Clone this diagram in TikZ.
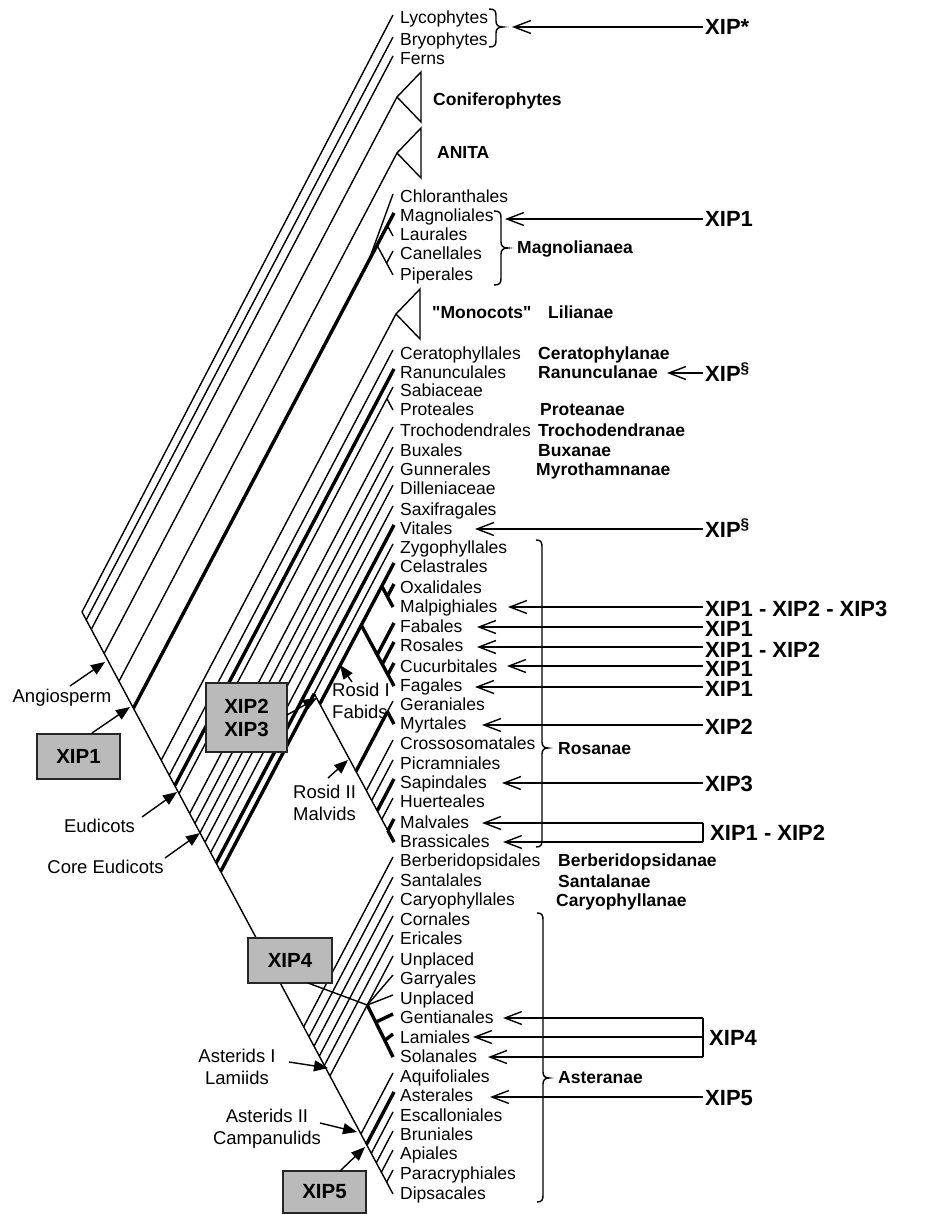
\documentclass[tikz,border=0pt]{standalone}
\usepackage{fontspec}
\setmainfont{Liberation Sans}
\newfontfamily\plainfnt{Liberation Sans}
\usetikzlibrary{calc,arrows.meta}
\newcommand\bbnode[2]{%
  \coordinate (a#1) at ($(#2)+(-100,190)$);%
  \coordinate (#1) at (intersection of R--D and #2--a#1);}
\newcommand\ccnode[3]{%
  \coordinate (u#1) at ($(#2)+(-100,190)$);%
  \coordinate (v#1) at ($(#3)+(-100,-186)$);%
  \coordinate (#1) at (intersection of #2--u#1 and #3--v#1);}
\newcommand\myLf{\fontsize{17.5}{20}\selectfont}
\newcommand\myAf{\fontsize{18.5}{22}\selectfont}
\newcommand\myXf{\fontsize{22}{24}\selectfont\bfseries}
\newcommand\myBf{\fontsize{20.5}{23}\selectfont\bfseries}
\newcommand\lfnode[3]{\node[lab] (n#1) at (400,#2+6) {#3};}
\newcommand\clnode[4]{\node[blab] (c#1) at (#2,#3+6) {#4};}
\newcommand\mybrace[6]{% x0, xv, xt, ytop, ymid, ybot
  \draw[br] (#1,#4) .. controls (#2-1,#4) and (#2,#4+2) .. (#2,#4+7) -- (#2,#5-6)
   .. controls (#2,#5-2) and (#2+2,#5) .. (#3,#5)
   .. controls (#2+2,#5) and (#2,#5+2) .. (#2,#5+6) -- (#2,#6-7)
   .. controls (#2,#6-2) and (#2-1,#6) .. (#1,#6);}
\begin{document}
\begin{tikzpicture}[x=1pt,y=-1pt,
  br/.style={line width=1.4pt},
  thk/.style={line width=3.4pt},
  lab/.style={anchor=base west, inner sep=0pt, font=\myLf},
  blab/.style={anchor=base west, inner sep=0pt, font=\myLf\bfseries},
  ann/.style={inner sep=0pt, font=\myAf},
  xip/.style={anchor=base west, inner sep=0pt, font=\myXf},
  xarr/.style={line width=1.4pt, -{Straight Barb[length=17pt,width=13pt]}},
  aarr/.style={line width=1.4pt, -{Triangle[length=14pt,width=11pt]}},
  gbox/.style={draw=black!85, line width=1.4pt, fill=black!27, inner sep=0pt, font=\myBf, align=center}
]
\useasboundingbox (0,0) rectangle (928,1214);
\fill[white] (0,0) rectangle (928,1214);

% ---------- tips ----------
\coordinate (R) at (82,612);
\coordinate (D) at (393,1194);
\coordinate (Lyc) at (393,15);
\coordinate (Bry) at (393,37);
\coordinate (Fer) at (393,56);
\coordinate (Con) at (397,97);
\coordinate (ANI) at (397,153);
\coordinate (Chl) at (393,194);
\coordinate (Mag) at (394,213);
\coordinate (Lau) at (393,236);
\coordinate (Can) at (393,251);
\coordinate (Pip) at (393,275);
\coordinate (Mon) at (396,314);
\coordinate (Cer) at (393,350);
\coordinate (Ran) at (394,369);
\coordinate (Sab) at (393,387);
\coordinate (Pro) at (393,410);
\coordinate (Tro) at (393,427);
\coordinate (Bux) at (393,447);
\coordinate (Gun) at (393,466);
\coordinate (Dil) at (393,485);
\coordinate (Sax) at (393,506);
\coordinate (Vit) at (394,525);
\coordinate (Zyg) at (393,544);
\coordinate (Cel) at (394,563);
\coordinate (Oxa) at (394,584);
\coordinate (Mal) at (393,607);
\coordinate (Fab) at (394,623);
\coordinate (Ros) at (394,642);
\coordinate (Cuc) at (394,663);
\coordinate (Fag) at (394,686);
\coordinate (Ger) at (393,701);
\coordinate (Myr) at (394,724);
\coordinate (Cro) at (393,740);
\coordinate (Pic) at (393,760);
\coordinate (Sap) at (394,779);
\coordinate (Hue) at (393,798);
\coordinate (Mav) at (394,819);
\coordinate (Bra) at (394,842);
\coordinate (Ber) at (393,857);
\coordinate (San) at (393,877);
\coordinate (Car) at (393,896);
\coordinate (Cor) at (393,916);
\coordinate (Eri) at (393,935);
\coordinate (Uno) at (393,956);
\coordinate (Gar) at (393,975);
\coordinate (Unt) at (393,995);
\coordinate (Gen) at (393,1014);
\coordinate (Lam) at (393,1034);
\coordinate (Sol) at (393,1057);
\coordinate (Aqu) at (393,1073);
\coordinate (Ast) at (394,1092);
\coordinate (Esc) at (393,1112);
\coordinate (Bru) at (393,1131);
\coordinate (Api) at (393,1150);
\coordinate (Par) at (393,1170);

% ---------- backbone nodes ----------
\foreach \t in {Bry,Fer,Con,ANI,Mag,Mon,Cer,Ran,Sab,Tro,Bux,Gun,Dil,Sax,Vit,Zyg,Ber,San,Car,Cor,Eri,Uno,Aqu,Ast,Esc,Bru,Api,Par}{
  \bbnode{b\t}{\t}
}
\draw[br] (R) -- (D);
\draw[br] (R) -- (Lyc);
\foreach \t in {Bry,Fer,Con,ANI,Mon,Cer,Sab,Tro,Bux,Gun,Dil,Sax,Ber,San,Car,Cor,Eri,Uno,Aqu,Esc,Bru,Api,Par}{
  \draw[br] (b\t) -- (\t);
}
\foreach \t in {Mag,Ran,Vit,Ast}{
  \draw[thk] (b\t) -- (\t);
}

% triangles
\draw[br] (Con) -- (421,72) -- (421,122) -- cycle;
\draw[br] (ANI) -- (421,128) -- (421,178) -- cycle;
\draw[br] (Mon) -- (420,289) -- (420,339) -- cycle;

% magnoliids
\ccnode{ML}{Mag}{Lau}
\ccnode{MP}{Mag}{Pip}
\ccnode{CP}{Can}{Pip}
\draw[br] (ML) -- (Lau);
\draw[br] (MP) -- (Pip);
\draw[br] (CP) -- (Can);
\coordinate (CH) at (intersection of bMag--Mag and 0,262--900,262);
\draw[br] (CH) -- (Chl);

% Sabiaceae / Proteales
\ccnode{SP}{Sab}{Pro}
\draw[br] (SP) -- (Pro);

% rosids
\ccnode{rR}{Zyg}{Bra}
\draw[thk] (bZyg) -- (rR);
\draw[br] (rR) -- (Zyg);
\draw[br] (rR) -- (Bra);
\ccnode{CB}{Cel}{Bra}
\ccnode{CN}{Cel}{Fag}
\draw[thk] (CB) -- (Cel);
\draw[thk] (CN) -- (Fag);
\ccnode{COM}{Cel}{Mal}
\ccnode{OM}{Oxa}{Mal}
\draw[thk] (COM) -- (Mal);
\draw[thk] (OM) -- (Oxa);
\ccnode{NF}{Fab}{Fag}
\ccnode{RF}{Ros}{Fag}
\ccnode{CF}{Cuc}{Fag}
\draw[thk] (NF) -- (Fab);
\draw[thk] (RF) -- (Ros);
\draw[thk] (CF) -- (Cuc);
\ccnode{MB}{Ger}{Bra}
\ccnode{GM}{Ger}{Myr}
\draw[thk] (MB) -- (GM);
\draw[br] (GM) -- (Ger);
\draw[thk] (GM) -- (Myr);
\ccnode{CrB}{Cro}{Bra}
\ccnode{PiB}{Pic}{Bra}
\ccnode{SaB}{Sap}{Bra}
\ccnode{HuB}{Hue}{Bra}
\ccnode{MvB}{Mav}{Bra}
\draw[br] (CrB) -- (Cro);
\draw[br] (PiB) -- (Pic);
\draw[thk] (SaB) -- (Sap);
\draw[br] (HuB) -- (Hue);
\draw[thk] (MvB) -- (Mav);
\draw[thk] (MvB) -- (Bra);

% lamiids
\coordinate (LN) at (intersection of bUno--Uno and 0,1005--900,1005);
\draw[br] (LN) -- (Gar);
\draw[br] (LN) -- (Unt);
\draw[thk] (LN) -- (Sol);
\coordinate (GT) at ($(LN)!0.33!(Sol)$);
\coordinate (LT) at ($(LN)!0.68!(Sol)$);
\draw[thk] (GT) -- (Gen);
\draw[thk] (LT) -- (Lam);

% ---------- leaf labels ----------
\lfnode{Lyc}{18}{Lycophytes}
\lfnode{Bry}{40}{Bryophytes}
\lfnode{Fer}{59}{Ferns}
\lfnode{Chl}{197}{Chloranthales}
\lfnode{Mag}{216}{Magnoliales}
\lfnode{Lau}{235}{Laurales}
\lfnode{Can}{254}{Canellales}
\lfnode{Pip}{274}{Piperales}
\lfnode{Cer}{353}{Ceratophyllales}
\lfnode{Ran}{372}{Ranunculales}
\lfnode{Sab}{390}{Sabiaceae}
\lfnode{Pro}{409}{Proteales}
\lfnode{Tro}{430}{Trochodendrales}
\lfnode{Bux}{450}{Buxales}
\lfnode{Gun}{469}{Gunnerales}
\lfnode{Dil}{488}{Dilleniaceae}
\lfnode{Sax}{509}{Saxifragales}
\lfnode{Vit}{528}{Vitales}
\lfnode{Zyg}{547}{Zygophyllales}
\lfnode{Cel}{566}{Celastrales}
\lfnode{Oxa}{587}{Oxalidales}
\lfnode{Mal}{606}{Malpighiales}
\lfnode{Fab}{626}{Fabales}
\lfnode{Ros}{645}{Rosales}
\lfnode{Cuc}{666}{Cucurbitales}
\lfnode{Fag}{685}{Fagales}
\lfnode{Ger}{704}{Geraniales}
\lfnode{Myr}{723}{Myrtales}
\lfnode{Cro}{743}{Crossosomatales}
\lfnode{Pic}{763}{Picramniales}
\lfnode{Sap}{782}{Sapindales}
\lfnode{Hue}{801}{Huerteales}
\lfnode{Mav}{822}{Malvales}
\lfnode{Bra}{841}{Brassicales}
\lfnode{Ber}{860}{Berberidopsidales}
\lfnode{San}{880}{Santalales}
\lfnode{Car}{899}{Caryophyllales}
\lfnode{Cor}{919}{Cornales}
\lfnode{Eri}{938}{Ericales}
\lfnode{Uno}{959}{Unplaced}
\lfnode{Gar}{978}{Garryales}
\lfnode{Unt}{998}{Unplaced}
\lfnode{Gen}{1017}{Gentianales}
\lfnode{Lam}{1037}{Lamiales}
\lfnode{Sol}{1056}{Solanales}
\lfnode{Aqu}{1076}{Aquifoliales}
\lfnode{Ast}{1095}{Asterales}
\lfnode{Esc}{1115}{Escalloniales}
\lfnode{Bru}{1134}{Bruniales}
\lfnode{Api}{1153}{Apiales}
\lfnode{Par}{1173}{Paracryphiales}
\lfnode{Dip}{1193}{Dipsacales}

% ---------- clade names ----------
\clnode{Con}{433}{100}{Coniferophytes}
\clnode{ANI}{437}{153}{ANITA}
\clnode{Mon}{432}{313}{{\plainfnt\bfseries "Monocots"}}
\clnode{Lil}{548}{313}{Lilianae}
\clnode{Mgn}{517}{248}{Magnolianaea}
\clnode{Cer}{538}{353}{Ceratophylanae}
\clnode{Ran}{538}{372}{Ranunculanae}
\clnode{Pro}{540}{409}{Proteanae}
\clnode{Tro}{538}{430}{Trochodendranae}
\clnode{Bux}{538}{450}{Buxanae}
\clnode{Myro}{536}{469}{Myrothamnanae}
\clnode{Rsn}{558}{748}{Rosanae}
\clnode{Ber}{558}{860}{Berberidopsidanae}
\clnode{San}{558}{881}{Santalanae}
\clnode{Car}{556}{900}{Caryophyllanae}
\clnode{Ast}{558}{1077}{Asteranae}

% braces
\mybrace{489}{496}{503}{9}{27}{47}
\mybrace{494}{501}{508}{211}{248}{285}
\mybrace{536}{542}{548}{540}{748}{847}
\mybrace{537}{543}{549}{913}{1078}{1202}

% ---------- boxes ----------
\node[gbox, minimum width=83pt, minimum height=45pt] (box1) at (78.5,756.5) {XIP1};
\node[gbox, minimum width=81pt, minimum height=69pt] (box23) at (246.5,717.5) {XIP2\\XIP3};
\node[gbox, minimum width=84pt, minimum height=45pt] (box4) at (290,960.5) {XIP4};
\node[gbox, minimum width=83pt, minimum height=42pt] (box5) at (324.5,1192) {XIP5};

% ---------- left annotations ----------
\node[ann] (tAng) at (62,698) {Angiosperm};
\node[ann] (tEud) at (99.5,826) {Eudicots};
\node[ann] (tCore) at (105.5,867) {Core Eudicots};
\node[ann, align=left, anchor=west] (tR1) at (332,701) {Rosid I\\Fabids};
\node[ann, align=left, anchor=west] (tR2) at (293,803) {Rosid II\\Malvids};
\node[ann, align=center] (tA1) at (237,1066.5) {Asterids I\\Lamiids};
\node[ann, align=center] (tA2) at (267,1128.5) {Asterids II\\Campanulids};

\coordinate (sAng) at (70,686);   \coordinate (pAng) at (105,662);
\coordinate (sX1) at (92,733);    \coordinate (pX1) at (130,707);
\coordinate (sEud) at (142,817);  \coordinate (pEud) at (177,792);
\coordinate (sCore) at (165,858); \coordinate (pCore) at (200,833);
\coordinate (sX23) at (287,715);  \coordinate (pX23) at (317,698);
\coordinate (sR1) at (352,682);   \coordinate (pR1) at (340,665);
\coordinate (sR2) at (328,778);   \coordinate (pR2) at (348,760);
\coordinate (sX4) at (308,983);
\coordinate (sA1) at (289,1062);  \coordinate (pA1) at (328,1068);
\coordinate (sA2) at (320,1123);  \coordinate (pA2) at (357,1132);
\coordinate (sX5) at (340,1171);  \coordinate (pX5) at (365,1147);
\draw[aarr] (sAng) -- (pAng);
\draw[aarr] (sX1) -- (pX1);
\draw[aarr] (sEud) -- (pEud);
\draw[aarr] (sCore) -- (pCore);
\draw[aarr] (sX23) -- (pX23);
\draw[aarr] (sR1) -- (pR1);
\draw[aarr] (sR2) -- (pR2);
\draw[br] (sX4) -- (LN);
\draw[aarr] (sA1) -- (pA1);
\draw[aarr] (sA2) -- (pA2);
\draw[aarr] (sX5) -- (pX5);

% ---------- right XIP arrows ----------
\node[xip] (xLB) at (705,27+8) {XIP*};
\node[xip] (xMg) at (705,219+8) {XIP1};
\node[xip] (xRa) at (705,373+8) {XIP\textsuperscript{\S}};
\node[xip] (xVi) at (705,529+8) {XIP\textsuperscript{\S}};
\node[xip] (xMa) at (705,608+8) {XIP1 - XIP2 - XIP3};
\node[xip] (xFa) at (705,628+8) {XIP1};
\node[xip] (xRo) at (705,649+8) {XIP1 - XIP2};
\node[xip] (xCu) at (705,668+8) {XIP1};
\node[xip] (xFg) at (705,688+8) {XIP1};
\node[xip] (xMy) at (705,726+8) {XIP2};
\node[xip] (xSa) at (705,783+8) {XIP3};
\node[xip] (xMB) at (710,832+8) {XIP1 - XIP2};
\node[xip] (xL4) at (709,1037+8) {XIP4};
\node[xip] (xA5) at (705,1097+8) {XIP5};

\coordinate (eLB) at (512,27);
\coordinate (eMg) at (505,219);
\coordinate (eRa) at (667,373);
\coordinate (eVi) at (475,529);
\coordinate (eMa) at (508,607);
\coordinate (eFa) at (477,627);
\coordinate (eRo) at (477,647);
\coordinate (eCu) at (507,666);
\coordinate (eFg) at (475,687);
\coordinate (eMy) at (482,725);
\coordinate (eSa) at (502,783);
\coordinate (eMv) at (482,823);
\coordinate (eBr) at (503,842);
\coordinate (eGe) at (503,1018);
\coordinate (eLa) at (473,1037);
\coordinate (eSo) at (488,1057);
\coordinate (eAs) at (490,1097);

\foreach \a/\b in {LB/LB,Mg/Mg,Ra/Ra,Vi/Vi,Ma/Ma,Fa/Fa,Ro/Ro,Cu/Cu,Fg/Fg,My/My,Sa/Sa,A5/As}{
  \draw[xarr] ($(x\a.west |- e\b)+(-2,0)$) -- (e\b);
}
\coordinate (kMv) at (703,823);
\coordinate (kBr) at (703,842);
\draw[br] (kMv) -- (kBr);
\draw[xarr] (kMv) -- (eMv);
\draw[xarr] (kBr) -- (eBr);
\coordinate (kGe) at (703,1018);
\coordinate (kLa) at (703,1037);
\coordinate (kSo) at (703,1057);
\draw[br] (kGe) -- (kSo);
\draw[xarr] (kGe) -- (eGe);
\draw[xarr] (kLa) -- (eLa);
\draw[xarr] (kSo) -- (eSo);
\end{tikzpicture}
\end{document}
